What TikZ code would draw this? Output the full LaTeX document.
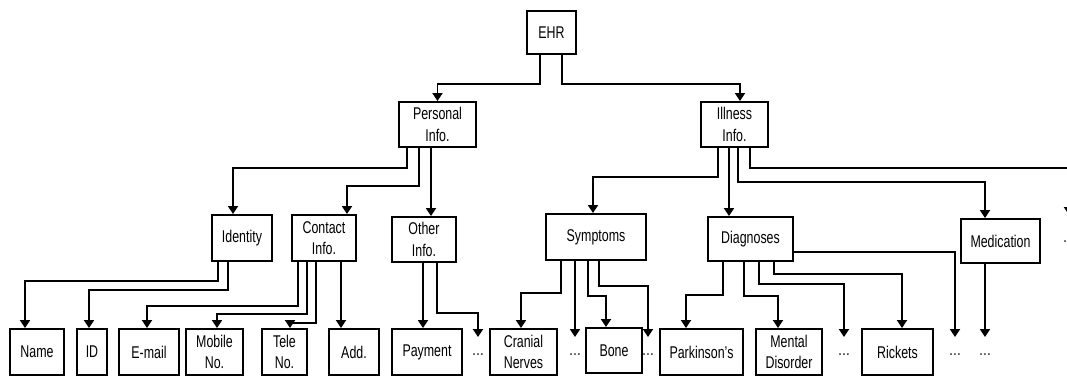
\documentclass[tikz,border=0pt]{standalone}
\usepackage{fontspec}
\setmainfont{Liberation Sans}[FakeStretch=0.73]
\usetikzlibrary{arrows.meta}

\begin{document}
\begin{tikzpicture}[x=1pt,y=-1pt,>={Triangle[width=10pt,length=8pt]},line width=1.9pt]
  \tikzstyle{box}=[draw,rectangle,inner sep=0pt,align=center,font=\fontsize{17}{21.5}\selectfont]
  \tikzstyle{dots}=[anchor=north,inner sep=0pt,text height=18pt,text depth=0pt,font=\fontsize{17}{20}\selectfont]
  \tikzstyle{link}=[->]

  \useasboundingbox (0,0) rectangle (1067,376);
  \clip (0,0) rectangle (1067,376);

  % Root and first level
  \node (ehr)      [box,minimum width=49pt,minimum height=43pt] at (551.5,32.5) {EHR};
  \node (personal) [box,minimum width=77pt,minimum height=45pt] at (437.5,124.5) {Personal\\Info.};
  \node (illness)  [box,minimum width=67pt,minimum height=45pt] at (734.5,124.5) {Illness\\Info.};

  % Second level
  \node (identity)   [box,minimum width=60pt,minimum height=46pt] at (242,238) {Identity};
  \node (contact)    [box,minimum width=64pt,minimum height=46pt] at (324,238) {Contact\\Info.};
  \node (other)      [box,minimum width=64pt,minimum height=45pt] at (424,239.5) {Other\\Info.};
  \node (symptoms)   [box,minimum width=100pt,minimum height=46pt] at (596,237) {Symptoms};
  \node (diagnoses)  [box,minimum width=85pt,minimum height=44pt] at (750.5,239) {Diagnoses};
  \node (medication) [box,minimum width=79pt,minimum height=44pt] at (1000.5,241) {Medication};

  % Leaves
  \node (name)      [box,minimum width=54pt,minimum height=46pt] at (37,352) {Name};
  \node (id)        [box,minimum width=30pt,minimum height=46pt] at (92,352) {ID};
  \node (email)     [box,minimum width=60pt,minimum height=46pt] at (149,352) {E-mail};
  \node (mobile)    [box,minimum width=57pt,minimum height=46pt] at (214.5,352) {Mobile\\No.};
  \node (tele)      [box,minimum width=45pt,minimum height=46pt] at (284.5,352) {Tele\\No.};
  \node (add)       [box,minimum width=50pt,minimum height=46pt] at (354,352) {Add.};
  \node (payment)   [box,minimum width=70pt,minimum height=46pt] at (427,352) {Payment};
  \node (cranial)   [box,minimum width=67pt,minimum height=46pt] at (523.5,352) {Cranial\\Nerves};
  \node (bone)      [box,minimum width=56pt,minimum height=45pt] at (614,350.5) {Bone};
  \node (parkinson) [box,minimum width=83pt,minimum height=46pt] at (701.5,352) {Parkinson's};
  \node (mental)    [box,minimum width=66pt,minimum height=46pt] at (789,352) {Mental\\Disorder};
  \node (rickets)   [box,minimum width=71pt,minimum height=46pt] at (897.5,352) {Rickets};

  % Omitted entries
  \node (more_other) [dots] at (478,337) {…};
  \node (more_symA)  [dots] at (575,337) {…};
  \node (more_symB)  [dots] at (648,337) {…};
  \node (more_diaA)  [dots] at (844,337) {…};
  \node (more_diaB)  [dots] at (955,337) {…};
  \node (more_med)   [dots] at (985,337) {…};
  \node (more_ill)   [dots,text height=27pt] at (1069,215) {…};

  % EHR
  \draw[link] ([xshift=-11.5pt]ehr.south) -- ++(0,29) -| (personal.north);
  \draw[link] ([xshift=10.5pt]ehr.south) -- ++(0,29) -| ([xshift=5.5pt]illness.north);

  % Personal Info.
  \draw[link] ([xshift=-30.5pt]personal.south) -- ++(0,20) -| ([xshift=-9pt]identity.north);
  \draw[link] ([xshift=-18.5pt]personal.south) -- ++(0,38) -| ([xshift=23pt]contact.north);
  \draw[link] ([xshift=-6.5pt]personal.south) -- ([xshift=-6.5pt]personal.south |- other.north);

  % Illness Info.
  \draw[link] ([xshift=-16.5pt]illness.south) -- ++(0,29) -| ([xshift=-3pt]symptoms.north);
  \draw[link] ([xshift=-5.5pt]illness.south) -- ([xshift=-5.5pt]illness.south |- diagnoses.north);
  \draw[link] ([xshift=3.5pt]illness.south) -- ++(0,34) -| ([xshift=-15.5pt]medication.north);
  \draw[link] ([xshift=15.5pt]illness.south) -- ++(0,20) -| (more_ill.north);

  % Identity
  \draw[link] ([xshift=-24pt]identity.south) -- ++(0,19) -| ([xshift=-12pt]name.north);
  \draw[link] ([xshift=-14pt]identity.south) -- ++(0,28) -| ([xshift=-3pt]id.north);

  % Contact Info.
  \draw[link] ([xshift=-26pt]contact.south) -- ++(0,44) -| ([xshift=-2pt]email.north);
  \draw[link] ([xshift=-17pt]contact.south) -- ++(0,52) -| ([xshift=2.5pt]mobile.north);
  \draw[link] ([xshift=-8pt]contact.south) -- ++(0,61) -| ([xshift=5.5pt]tele.north);
  \draw[link] ([xshift=17pt]contact.south) -- ([xshift=17pt]contact.south |- add.north);

  % Other Info.
  \draw[link] ([xshift=-1pt]other.south) -- ([xshift=-1pt]other.south |- payment.north);
  \draw[link] ([xshift=13pt]other.south) -- ++(0,50) -| (more_other.north);

  % Symptoms
  \draw[link] ([xshift=-35pt]symptoms.south) -- ++(0,32) -| ([xshift=-2.5pt]cranial.north);
  \draw[link] ([xshift=-21pt]symptoms.south) -- (more_symA.north);
  \draw[link] ([xshift=-8pt]symptoms.south) -- ++(0,35) -| ([xshift=-8pt]bone.north);
  \draw[link] ([xshift=3pt]symptoms.south) -- ++(0,25) -| (more_symB.north);

  % Diagnoses
  \draw[link] ([xshift=-27.5pt]diagnoses.south) -- ++(0,33) -| ([xshift=-15.5pt]parkinson.north);
  \draw[link] ([xshift=-6.5pt]diagnoses.south) -- ++(0,34) -| ([xshift=-11pt]mental.north);
  \draw[link] ([xshift=8.5pt]diagnoses.south) -- ++(0,22) -| (more_diaA.north);
  \draw[link] ([xshift=23.5pt]diagnoses.south) -- ++(0,12) -| ([xshift=4.5pt]rickets.north);
  \draw[link] ([yshift=-13pt]diagnoses.east) -| (more_diaB.north);

  % Medication
  \draw[link] (medication.south -| more_med.north) -- (more_med.north);

\end{tikzpicture}
\end{document}
